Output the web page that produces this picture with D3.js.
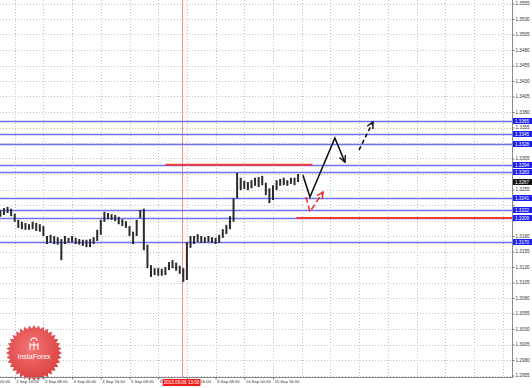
<!DOCTYPE html>
<html>
<head>
<meta charset="utf-8">
<script src="https://cdn.jsdelivr.net/npm/d3@7"></script>
<style>
body { margin: 0; background: #fff; }
svg { display: block; font-family: "Liberation Sans", Arial, sans-serif; }
</style>
</head>
<body>
<div id="chart-area"></div>
<script>
var width = 532, height = 388;
var plotW = 512, plotH = 377;

// time axis: trading hours counted from 2 Sep 00:00
var timeTicks = [0, 16, 32, 48, 64, 80, 96, 112, 128, 144, 160];
var timeLabels = ["2 Sep 00:00", "2 Sep 16:00", "3 Sep 08:00", "4 Sep 00:00", "4 Sep 16:00",
    "5 Sep 08:00", "6 Sep 00:00", "6 Sep 16:00", "9 Sep 08:00", "10 Sep 00:00", "10 Sep 16:00"];
var markerHour = 109;
var markerLabel = "2013.09.06 13:00";

var priceTicks = [1.2955, 1.2980, 1.3005, 1.3030, 1.3055, 1.3080, 1.3105, 1.3130, 1.3155,
    1.3180, 1.3205, 1.3230, 1.3255, 1.3280, 1.3305, 1.3330, 1.3355, 1.3380, 1.3405,
    1.3430, 1.3455, 1.3480, 1.3505, 1.3530, 1.3555];

// 2-hour bars, first at hour 8
var highs = [1.3222, 1.3225, 1.3227, 1.3224, 1.3216, 1.3206, 1.3203, 1.3201, 1.3199, 1.3203,
    1.3201, 1.3199, 1.3196, 1.3180, 1.3182, 1.3180, 1.3178, 1.3175, 1.3180, 1.3177,
    1.3180, 1.3177, 1.3175, 1.3174, 1.3174, 1.3175, 1.3178, 1.3190, 1.3206, 1.3219,
    1.3217, 1.3215, 1.3214, 1.3211, 1.3207, 1.3204, 1.3196, 1.3187, 1.3206, 1.3222,
    1.3224, 1.3166, 1.3133, 1.3128, 1.3128, 1.3127, 1.3130, 1.3138, 1.3141, 1.3137,
    1.3132, 1.3128, 1.3170, 1.3180, 1.3180, 1.3183, 1.3180, 1.3178, 1.3180, 1.3178,
    1.3177, 1.3182, 1.3191, 1.3198, 1.3212, 1.3241, 1.3282, 1.3274, 1.3269, 1.3267,
    1.3270, 1.3274, 1.3275, 1.3277, 1.3266, 1.3257, 1.3262, 1.3270, 1.3272, 1.3274,
    1.3270, 1.3274, 1.3274, 1.3280];
var lows = [1.3211, 1.3214, 1.3217, 1.3212, 1.3203, 1.3193, 1.3191, 1.3190, 1.3190, 1.3191,
    1.3188, 1.3187, 1.3180, 1.3167, 1.3169, 1.3167, 1.3166, 1.3141, 1.3167, 1.3169,
    1.3170, 1.3167, 1.3166, 1.3164, 1.3162, 1.3162, 1.3167, 1.3172, 1.3182, 1.3203,
    1.3207, 1.3206, 1.3204, 1.3199, 1.3196, 1.3193, 1.3180, 1.3167, 1.3180, 1.3209,
    1.3157, 1.3128, 1.3114, 1.3117, 1.3116, 1.3116, 1.3117, 1.3125, 1.3128, 1.3124,
    1.3119, 1.3106, 1.3109, 1.3161, 1.3167, 1.3170, 1.3169, 1.3169, 1.3170, 1.3169,
    1.3167, 1.3169, 1.3177, 1.3183, 1.3191, 1.3203, 1.3241, 1.3254, 1.3256, 1.3254,
    1.3257, 1.3261, 1.3259, 1.3262, 1.3246, 1.3233, 1.3238, 1.3254, 1.3261, 1.3262,
    1.3261, 1.3264, 1.3262, 1.3267];
var barHours = d3.range(8, 8 + 2 * highs.length, 2);

var lastPrice = 1.3267;
var levels = [1.3365, 1.3345, 1.3328, 1.3294, 1.3283, 1.3241, 1.3222, 1.3209, 1.3170];
var redLevels = [
    {price: 1.3295, from: 100, to: 182},
    {price: 1.3209, from: 173, to: 300}
];

// forecast arrows as [hour, price]
var mainPath = [[176.7, 1.3278], [180.6, 1.3243], [194.5, 1.3338], [200.1, 1.3299]];
var dashPath = [[208.0, 1.3319], [215.7, 1.3364]];
var redPath = [[178.4, 1.3243], [180.6, 1.3219], [187.9, 1.3251]];

var svg = d3.select('#chart-area')
    .append('svg')
        .attr('width', width)
        .attr('height', height);

var x = d3.scaleLinear().domain([0, 160]).range([-14, 273]);
var y = d3.scaleLinear().domain([1.2955, 1.3555]).range([375.5, 3.5]);

var defs = svg.append('defs');
defs.append('clipPath').attr('id', 'plot')
    .append('rect').attr('width', plotW).attr('height', plotH);

var g = svg.append('g').attr('clip-path', 'url(#plot)');

// grid
var gridHours = d3.range(0, 300, 16);
g.selectAll('line.vgrid').data(gridHours).enter().append('line')
    .attr('x1', d => Math.round(x(d)) + 0.5).attr('x2', d => Math.round(x(d)) + 0.5)
    .attr('y1', 0).attr('y2', plotH)
    .attr('stroke', '#c4c4c4').attr('stroke-dasharray', '1,2');
g.selectAll('line.hgrid').data(priceTicks).enter().append('line')
    .attr('x1', 0).attr('x2', plotW)
    .attr('y1', d => Math.round(y(d)) + 0.5).attr('y2', d => Math.round(y(d)) + 0.5)
    .attr('stroke', '#c4c4c4').attr('stroke-dasharray', '1,2');

// event marker
g.append('line')
    .attr('x1', Math.round(x(markerHour)) + 0.5).attr('x2', Math.round(x(markerHour)) + 0.5)
    .attr('y1', 0).attr('y2', plotH)
    .attr('stroke', '#ff8a8a').attr('stroke-width', 1);

// blue levels
g.selectAll('line.level').data(levels).enter().append('line')
    .attr('x1', 0).attr('x2', plotW)
    .attr('y1', d => Math.round(y(d)) + 0.5).attr('y2', d => Math.round(y(d)) + 0.5)
    .attr('stroke', '#7070f4').attr('stroke-width', 1.3);

// red levels
g.selectAll('line.red').data(redLevels).enter().append('line')
    .attr('x1', d => x(d.from)).attr('x2', d => Math.min(plotW, x(d.to)))
    .attr('y1', d => y(d.price)).attr('y2', d => y(d.price))
    .attr('stroke', '#f03a3a').attr('stroke-width', 2);

// price bars
g.selectAll('line.bar').data(highs).enter().append('line')
    .attr('x1', (d, i) => x(barHours[i])).attr('x2', (d, i) => x(barHours[i]))
    .attr('y1', d => y(d)).attr('y2', (d, i) => y(lows[i]))
    .attr('stroke', '#2a2a2a').attr('stroke-width', 2);

// arrows
function marker(id, color) {
    defs.append('marker').attr('id', id)
        .attr('viewBox', '0 0 10 10').attr('refX', 9).attr('refY', 5)
        .attr('markerWidth', 8).attr('markerHeight', 8)
        .attr('markerUnits', 'userSpaceOnUse').attr('orient', 'auto')
      .append('path').attr('d', 'M1,1 L9,5 L1,9')
        .attr('fill', 'none').attr('stroke', color).attr('stroke-width', 1.8);
}
marker('ab', '#111');
marker('ar', '#f02828');

var line = d3.line().x(d => x(d[0])).y(d => y(d[1]));
g.append('path').attr('d', line(mainPath))
    .attr('fill', 'none').attr('stroke', '#111').attr('stroke-width', 1.6)
    .attr('marker-end', 'url(#ab)');
g.append('path').attr('d', line(dashPath))
    .attr('fill', 'none').attr('stroke', '#111').attr('stroke-width', 1.6)
    .attr('stroke-dasharray', '4,3')
    .attr('marker-end', 'url(#ab)');
g.append('path').attr('d', line(redPath))
    .attr('fill', 'none').attr('stroke', '#f02828').attr('stroke-width', 1.5)
    .attr('stroke-dasharray', '6,3')
    .attr('marker-end', 'url(#ar)');

// logo
var logo = svg.append('g').attr('transform', 'translate(34,353)');
var rg = defs.append('radialGradient').attr('id', 'lg').attr('cx', '45%').attr('cy', '40%').attr('r', '65%');
rg.append('stop').attr('offset', '0%').attr('stop-color', '#f46a6a');
rg.append('stop').attr('offset', '100%').attr('stop-color', '#d42a2a');
var teeth = 36, pts = [];
for (var k = 0; k < teeth * 2; k++) {
    var a = k * Math.PI / teeth, r = k % 2 ? 24.5 : 28;
    pts.push([r * Math.cos(a), r * Math.sin(a)]);
}
logo.append('polygon').attr('points', pts.map(p => p.join(',')).join(' '))
    .attr('fill', 'url(#lg)').attr('opacity', 0.92);
logo.append('path').attr('d', 'M-3,-12 A3,3 0 1,1 3,-12 M-4,-10 L-4,-3 M4,-10 L4,-3 M0,-11 L0,-3 M-4,-8 L4,-8')
    .attr('fill', 'none').attr('stroke', '#fff').attr('stroke-width', 1.1);
logo.append('text').attr('x', 0).attr('y', 6).attr('text-anchor', 'middle')
    .attr('font-size', '7px').attr('fill', '#fff').text('InstaForex');

// frame
svg.append('line').attr('x1', plotW + 0.5).attr('x2', plotW + 0.5).attr('y1', 0).attr('y2', plotH + 1)
    .attr('stroke', '#8a8a8a');
svg.append('line').attr('x1', 0).attr('x2', plotW + 1).attr('y1', plotH + 0.5).attr('y2', plotH + 0.5)
    .attr('stroke', '#8a8a8a');

// right price axis (labels under a level box are left out)
var boxPrices = levels.concat([lastPrice]);
var rightAxis = d3.axisRight(y).tickValues(priceTicks).tickSize(2).tickPadding(1)
    .tickFormat(d => d.toFixed(4));
var ra = svg.append('g').attr('class', 'right axis')
    .attr('transform', 'translate(' + (plotW + 0.5) + ',0)')
    .call(rightAxis);
ra.select('.domain').remove();
ra.selectAll('line').attr('stroke', '#777');
ra.selectAll('text').attr('font-size', '4.6px').attr('fill', '#333')
    .filter(d => boxPrices.some(b => Math.abs(y(b) - y(d)) < 5)).remove();

// bottom time axis
var bottomAxis = d3.axisBottom(x).tickValues(timeTicks).tickSize(2).tickPadding(1)
    .tickFormat((d, i) => timeLabels[i]);
var ba = svg.append('g').attr('class', 'bottom axis')
    .attr('transform', 'translate(0,' + (plotH + 0.5) + ')')
    .call(bottomAxis);
ba.select('.domain').remove();
ba.selectAll('line').attr('stroke', '#777');
ba.selectAll('text').attr('text-anchor', 'start').attr('dx', '1px')
    .attr('font-size', '4.2px').attr('fill', '#333');

// level labels
var lab = svg.append('g');
levels.forEach(function (d) {
    var yy = Math.round(y(d));
    lab.append('rect').attr('x', plotW + 1).attr('y', yy - 3).attr('width', 19).attr('height', 6)
        .attr('fill', '#1f1ff0');
    lab.append('text').attr('x', plotW + 3).attr('y', yy + 1.7)
        .attr('font-size', '4.6px').attr('fill', '#fff').text(d.toFixed(4));
});
var ly = Math.round(y(lastPrice));
lab.append('rect').attr('x', plotW + 1).attr('y', ly - 3).attr('width', 19).attr('height', 6)
    .attr('fill', '#111');
lab.append('text').attr('x', plotW + 3).attr('y', ly + 1.7)
    .attr('font-size', '4.6px').attr('fill', '#fff').text(lastPrice.toFixed(4));

// event time label
var mx = x(markerHour);
lab.append('rect').attr('x', mx - 19).attr('y', plotH + 2).attr('width', 38).attr('height', 7)
    .attr('fill', '#f01c1c');
lab.append('text').attr('x', mx).attr('y', plotH + 7.3).attr('text-anchor', 'middle')
    .attr('font-size', '4.6px').attr('fill', '#fff').text(markerLabel);
</script>
</body>
</html>
